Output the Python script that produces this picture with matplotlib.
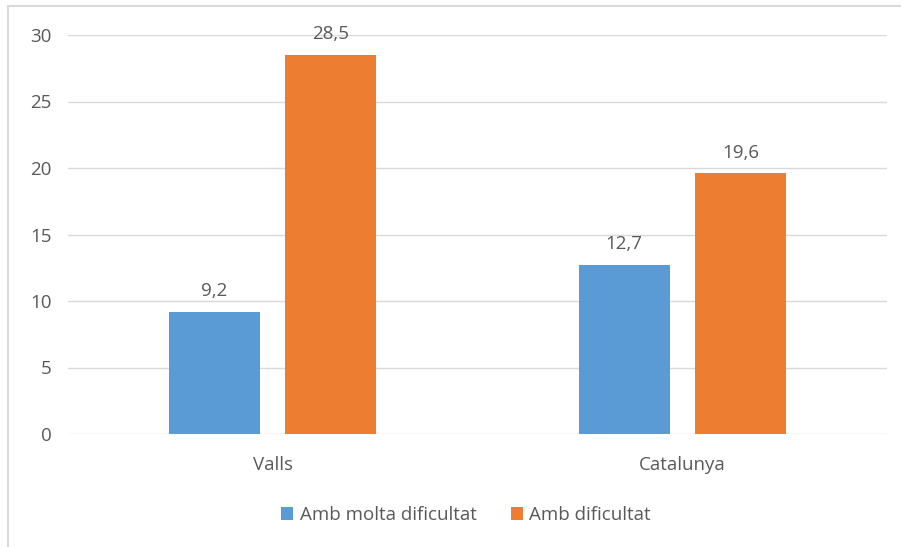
import matplotlib
matplotlib.use("Agg")
import matplotlib.pyplot as plt
from matplotlib.patches import Rectangle

categories = ["Valls", "Catalunya"]
series_names = ["Amb molta dificultat", "Amb dificultat"]
molta = [9.2, 12.7]
dificultat = [28.5, 19.6]
labels_molta = ["9,2", "12,7"]
labels_dif = ["28,5", "19,6"]
yticks = [0, 5, 10, 15, 20, 25, 30]

plt.rcParams['font.family'] = ['Open Sans', 'DejaVu Sans']
W, H = 901, 547
fig = plt.figure(figsize=(W/100, H/100), dpi=100)
ax = fig.add_axes([68/W, 1-434/H, (887-68)/W, (434-35)/H])

blue = "#5B9BD5"
orange = "#ED7D31"
gray = "#595959"
fs = 13.5
x = list(range(len(categories)))
w = 0.222
off = 0.142
b1 = ax.bar([i - off for i in x], molta, w, color=blue, label=series_names[0])
b2 = ax.bar([i + off for i in x], dificultat, w, color=orange, label=series_names[1])
for bars, labs in ((b1, labels_molta), (b2, labels_dif)):
    for r, t in zip(bars, labs):
        ax.annotate(t, (r.get_x() + r.get_width()/2, r.get_height()), xytext=(0, 8.5),
                    textcoords="offset points", ha="center", va="bottom", fontsize=fs, color=gray)

ax.set_xlim(-0.5, 1.5)
ax.set_ylim(0, 30)
ax.set_yticks(yticks)
ax.set_yticklabels([str(v) for v in yticks])
ax.set_xticks(x)
ax.set_xticklabels(categories)
ax.tick_params(axis='both', length=0, labelsize=fs, colors=gray)
ax.tick_params(axis='y', pad=12)
ax.tick_params(axis='x', pad=16)
ax.grid(axis='y', color="#d9d9d9", linewidth=1)
ax.set_axisbelow(True)
for s in ax.spines.values():
    s.set_visible(False)

leg = fig.legend(loc="center", bbox_to_anchor=(466/W, 1-515/H), ncol=2, frameon=False,
                 fontsize=fs, handlelength=0.65, handleheight=0.65, columnspacing=1.8,
                 handletextpad=0.35, labelcolor=gray)

fig.patches.append(Rectangle((8/W, -0.1), 1.2, 1.1 - 6/H, transform=fig.transFigure,
                             fill=False, edgecolor="#d9d9d9", linewidth=1.5))
fig.savefig("out.png", dpi=100)
